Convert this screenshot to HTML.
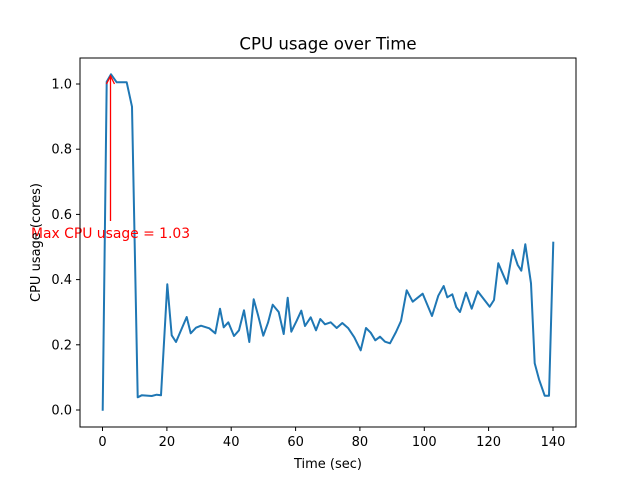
<!DOCTYPE html>
<html><head><style>body{margin:0;background:#fff}svg{display:block}text{font-family:"DejaVu Sans","Liberation Sans",sans-serif}</style></head><body>
<svg width="640" height="480" xmlns="http://www.w3.org/2000/svg">
<rect width="640" height="480" fill="#fff"/>
<text x="328" y="49.5" font-size="16.6" text-anchor="middle">CPU usage over Time</text>
<polyline fill="none" stroke="#1f77b4" stroke-width="2" stroke-linejoin="round" points="102.7,410.7 106.7,81.7 111,74.3 116.7,82.3 126.7,82.3 132,106.7 137.7,397.3 141.7,395.3 151.7,396 156.7,394.7 161,395.3 167.3,284.3 171.7,335.3 176,342 186.7,317 190.7,333.3 196,327.7 201,325.7 209.3,328.3 215.3,333.3 220,308.7 223.7,327.3 228.3,322.3 234,336 239,330.3 244,310.3 249.3,342 253.7,299.3 258,315 263.3,335.7 268,322.7 272.7,304.7 278.7,312 283.7,334 287.7,297.7 291.3,331.7 296.7,320.7 301.3,310.7 305,326 310.7,317.3 316,330.3 320.3,319 325,324.3 330.7,322.3 336.7,328 342.3,323 348.3,328.3 354.3,337.3 360.7,350.3 366,328 370.7,332.7 375.3,340.3 380,336.7 385,341.7 390,343.3 396,332 401,321 406.7,290.3 412.7,301.7 422.7,293.7 432,316 438.3,295.7 443.7,286 447.3,297.3 452.3,294.3 456.3,307.3 460,312 466,292.7 471.7,308.7 477.7,291.3 489.7,306.7 494,300 498.3,263.3 507,283.7 512.7,250 517.7,265 521.3,270.7 525.3,244.3 531,283.3 534.7,363.3 539,379.3 544.7,395.7 549,395.7 553.3,241.7"/>
<line x1="110.5" y1="221" x2="110.5" y2="76" stroke="red" stroke-width="1.3"/>
<polyline points="106.5,84 110.5,76 114.5,84" fill="none" stroke="red" stroke-width="1.3"/>
<text x="31" y="238" font-size="13.9" fill="red">Max CPU usage = 1.03</text>
<rect x="80" y="58" width="496" height="369" fill="none" stroke="#000" stroke-width="1"/>
<g stroke="#000" stroke-width="1">
<line x1="102.5" y1="427" x2="102.5" y2="431"/><line x1="166.9" y1="427" x2="166.9" y2="431"/><line x1="231.2" y1="427" x2="231.2" y2="431"/><line x1="295.6" y1="427" x2="295.6" y2="431"/><line x1="359.9" y1="427" x2="359.9" y2="431"/><line x1="424.3" y1="427" x2="424.3" y2="431"/><line x1="488.6" y1="427" x2="488.6" y2="431"/><line x1="553" y1="427" x2="553" y2="431"/>
<line x1="76" y1="410" x2="80" y2="410"/><line x1="76" y1="344.8" x2="80" y2="344.8"/><line x1="76" y1="279.6" x2="80" y2="279.6"/><line x1="76" y1="214.4" x2="80" y2="214.4"/><line x1="76" y1="149.2" x2="80" y2="149.2"/><line x1="76" y1="84" x2="80" y2="84"/>
</g>
<g font-size="13" text-anchor="middle">
<text x="102.5" y="446">0</text><text x="166.9" y="446">20</text><text x="231.2" y="446">40</text><text x="295.6" y="446">60</text><text x="359.9" y="446">80</text><text x="424.3" y="446">100</text><text x="488.6" y="446">120</text><text x="553" y="446">140</text>
</g>
<g font-size="13" text-anchor="end">
<text x="72" y="414.5">0.0</text><text x="72" y="349.3">0.2</text><text x="72" y="284.1">0.4</text><text x="72" y="218.9">0.6</text><text x="72" y="153.7">0.8</text><text x="72" y="88.5">1.0</text>
</g>
<text x="328" y="468" font-size="13" text-anchor="middle">Time (sec)</text>
<text transform="translate(40,242.5) rotate(-90)" font-size="13" text-anchor="middle">CPU usage (cores)</text>
</svg>
</body></html>
